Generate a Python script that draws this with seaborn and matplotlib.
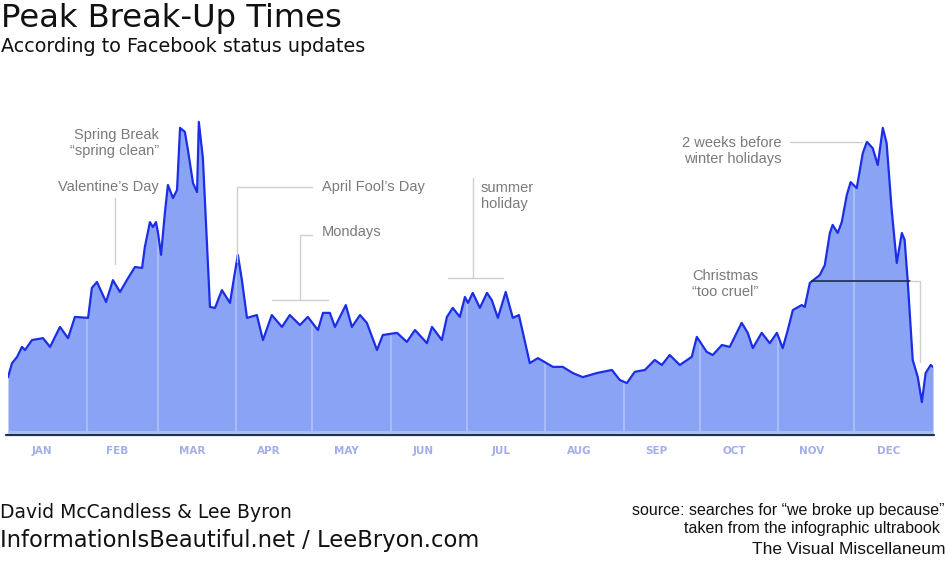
import numpy as np
import pandas as pd
import seaborn as sns
import matplotlib.pyplot as plt
from matplotlib.lines import Line2D

# day of year vs relative volume of "we broke up because" updates (peak = 100)
day = [0, 1.6, 3.6, 5.5, 6.7, 9.5, 13.8, 16.6, 20.5, 23.7, 26.4, 31.6, 33.1, 35.1,
       38.7, 41.4, 44.2, 46.9, 50.1, 52.9, 54.0, 56.0, 57.2, 58.4, 59.2, 60.4, 61.9,
       63.1, 65.1, 66.7, 67.9, 69.8, 71.0, 73.0, 74.6, 75.3, 76.9, 79.7, 81.7, 84.4,
       87.6, 89.5, 90.7, 92.3, 94.3, 98.2, 100.6, 104.1, 108.1, 111.2, 115.2, 118.3,
       122.3, 124.3, 127.0, 129.0, 133.3, 135.7, 138.9, 141.6, 145.6, 147.9, 153.5,
       157.4, 160.6, 165.3, 167.3, 171.2, 173.2, 175.5, 178.3, 180.3, 181.5, 183.4,
       186.2, 189.0, 190.9, 193.3, 196.4, 199.2, 201.6, 205.9, 209.1, 215.0, 218.9,
       222.9, 226.8, 232.3, 238.3, 241.4, 244.2, 247.3, 251.3, 255.2, 258.0, 261.1,
       265.1, 269.8, 271.8, 275.7, 278.1, 281.7, 284.8, 289.5, 291.9, 293.9, 297.4,
       300.6, 303.4, 305.7, 307.7, 309.7, 313.2, 314.4, 316.4, 320.3, 322.3, 324.3,
       325.4, 327.4, 329.0, 331.0, 332.5, 334.9, 337.3, 338.9, 341.2, 343.2, 345.2,
       346.7, 348.7, 350.7, 352.7, 353.8, 355.0, 357.0, 359.0, 360.6, 362.1, 364.1,
       365.0]
volume = [17.9, 22.4, 24.4, 27.6, 26.6, 29.8, 30.4, 27.6, 34.0, 30.4, 37.2, 36.9, 46.5,
          48.4, 42.0, 49.0, 45.2, 49.0, 53.2, 52.9, 59.6, 67.6, 66.0, 67.6, 64.1, 57.1,
          70.5, 79.5, 75.3, 77.9, 97.8, 96.5, 90.7, 80.1, 77.2, 99.7, 88.1, 40.4, 40.1,
          45.8, 41.7, 51.3, 57.1, 49.0, 36.9, 37.8, 29.8, 37.8, 34.0, 37.8, 34.6, 37.2,
          33.0, 38.5, 38.5, 34.0, 41.0, 34.0, 37.8, 35.3, 26.6, 31.4, 32.1, 29.2, 33.0,
          28.8, 34.0, 29.8, 37.2, 40.1, 37.2, 43.6, 41.7, 44.9, 40.1, 44.9, 42.6, 36.9,
          45.2, 36.9, 37.8, 22.4, 24.0, 21.2, 21.2, 19.2, 17.9, 19.2, 20.2, 17.0, 16.0,
          19.6, 20.2, 23.4, 21.8, 25.0, 21.8, 24.4, 30.8, 26.0, 25.0, 28.2, 27.6, 35.3,
          32.1, 27.2, 32.1, 28.8, 32.1, 27.2, 33.0, 39.4, 41.0, 40.4, 48.1, 50.6, 53.8,
          64.1, 66.7, 64.1, 67.6, 76.3, 80.4, 78.5, 89.7, 93.3, 91.3, 85.9, 97.8, 92.9,
          71.5, 54.5, 64.1, 61.9, 49.0, 23.4, 17.9, 9.9, 19.2, 21.8, 21.2]

months = ["JAN", "FEB", "MAR", "APR", "MAY", "JUN", "JUL", "AUG", "SEP", "OCT", "NOV", "DEC"]
month_len = [31, 28, 31, 30, 31, 30, 31, 31, 30, 31, 30, 31]

df = pd.DataFrame({"day": day, "volume": volume})
month_start = np.cumsum([0] + month_len[:-1])
month_mid = month_start + np.array(month_len) / 2

W, H = 948, 565
fig = plt.figure(figsize=(W / 100, H / 100), dpi=100)
sns.set_style("white")

def px(x, y):
    return x / W, 1 - y / H

ax = fig.add_axes([8 / W, 1 - 433 / H, 925 / W, 318 / H])
ax.fill_between(df["day"], df["volume"], color="#8ba3f5", lw=0)
# light month separators inside the area
for s in month_start[1:]:
    ax.vlines(s, 0, np.interp(s, df["day"], df["volume"]), color="#a9bcf8", lw=1.5)
sns.lineplot(data=df, x="day", y="volume", ax=ax, color="#1b2ee6", lw=1.6)
ax.set_xlim(0, 365)
ax.set_ylim(0, 318 / 3.12)
for sp in ax.spines.values():
    sp.set_visible(False)
ax.set_yticks([])
ax.set_xticks(month_mid - 2)
ax.set_xticklabels(months, color="#a3aeea", fontsize=7.5, fontweight="bold",
                   family="DejaVu Sans")
ax.tick_params(axis="x", length=0, pad=9)
ax.set_xlabel("")
ax.set_ylabel("")
ax.axhline(0.3, color="#a8c4f0", lw=1.2)
fig.add_artist(Line2D([6 / W, 934 / W], [1 - 434.5 / H] * 2, color="#1c3350", lw=1.6))

# annotations
grey = "#7a7a7a"
lead = "#cfcfcf"
afont = dict(family="Liberation Sans", fontsize=10.5, color=grey)

def seg(pts, color=lead, lw=1):
    xs = [p[0] / W for p in pts]
    ys = [1 - p[1] / H for p in pts]
    fig.add_artist(Line2D(xs, ys, color=color, lw=lw))

fig.text(*px(159, 143), "Spring Break\n\u201cspring clean\u201d", ha="right", va="center",
         linespacing=1.15, **afont)
fig.text(*px(159, 187), "Valentine\u2019s Day", ha="right", va="center", **afont)
seg([(115, 198), (115, 264)])

fig.text(*px(322, 187), "April Fool\u2019s Day", ha="left", va="center", **afont)
seg([(312, 187), (237, 187), (237, 262)])

fig.text(*px(322, 232), "Mondays", ha="left", va="center", **afont)
seg([(312, 235), (300, 235), (300, 300)])
seg([(272, 300), (328, 300)])

fig.text(*px(481, 196), "summer\nholiday", ha="left", va="center", linespacing=1.15, **afont)
seg([(473, 178), (473, 278)])
seg([(448, 278), (503, 278)])

fig.text(*px(782, 151), "2 weeks before\nwinter holidays", ha="right", va="center",
         linespacing=1.15, **afont)
seg([(790, 142), (862, 142)])

fig.text(*px(725, 284), "Christmas\n\u201ctoo cruel\u201d", ha="center", va="center",
         linespacing=1.15, **afont)
seg([(812, 281), (910, 281)], color="#1c2a55", lw=1.2)
seg([(910, 281), (920, 281), (920, 362)])

# titles and credits
dark = "#111111"
fig.text(*px(1, 18), "Peak Break-Up Times", ha="left", va="center", family="DejaVu Sans",
         fontsize=23.2, color=dark)
fig.text(*px(1, 46), "According to Facebook status updates", ha="left", va="center",
         family="DejaVu Sans", fontsize=13.8, color=dark)
fig.text(*px(0, 513), "David McCandless & Lee Byron", ha="left", va="center",
         family="DejaVu Sans", fontsize=13.5, color=dark)
fig.text(*px(0, 541), "InformationIsBeautiful.net / LeeBryon.com", ha="left", va="center",
         family="DejaVu Sans", fontsize=16.3, color=dark)
fig.text(*px(945, 510), "source: searches for \u201cwe broke up because\u201d", ha="right",
         va="center", family="Liberation Sans", fontsize=11.5, color=dark)
fig.text(*px(940, 528), "taken from the infographic ultrabook", ha="right", va="center",
         family="Liberation Sans", fontsize=11.5, color=dark)
fig.text(*px(945, 549), "The Visual Miscellaneum", ha="right", va="center",
         family="Liberation Sans", fontsize=12.5, color=dark)

fig.savefig("out.png", dpi=100)
